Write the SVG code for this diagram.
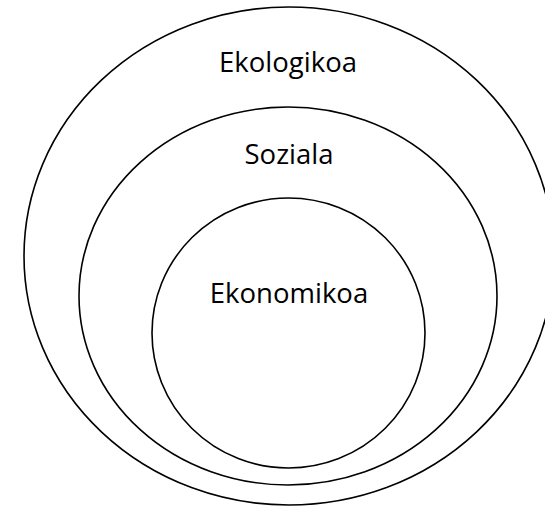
<svg xmlns="http://www.w3.org/2000/svg" width="545" height="506" viewBox="0 0 545 506">
<style>
.ring{fill:none;stroke:#000;stroke-width:1.6}
.lbl{font-family:"Open Sans","Liberation Sans",sans-serif;font-size:27.5px;fill:#000;text-anchor:middle}
</style>
<rect width="545" height="506" fill="#fff"/>
<g id="ekologikoa">
<ellipse class="ring" cx="289" cy="256" rx="265" ry="249"/>
<text class="lbl" x="288" y="72">Ekologikoa</text>
</g>
<g id="soziala">
<ellipse class="ring" cx="288" cy="296" rx="209" ry="189"/>
<text class="lbl" x="289" y="164">Soziala</text>
</g>
<g id="ekonomikoa">
<ellipse class="ring" cx="288.5" cy="333" rx="136.5" ry="135"/>
<text class="lbl" x="289" y="303">Ekonomikoa</text>
</g>
<g id="connectors"/>
</svg>
